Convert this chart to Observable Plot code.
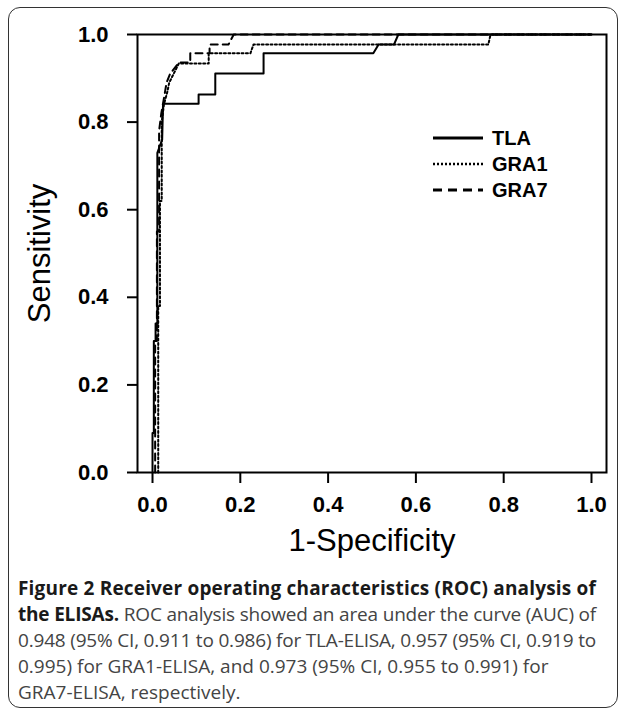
<!DOCTYPE html>
<html><head><meta charset="utf-8">
<script src="https://cdn.jsdelivr.net/npm/d3@7"></script>
<script src="https://cdn.jsdelivr.net/npm/@observablehq/plot@0.6"></script>
<style>
body{margin:0;background:#fff;font-family:"Liberation Sans",Arial,sans-serif;}
#fig{position:relative;width:625px;height:710px;overflow:hidden;background:#fff;}
#box{position:absolute;left:8px;top:7px;width:610px;height:701px;border:1.5px solid #333;border-radius:12px;box-sizing:border-box;}
#chart{position:absolute;left:0;top:0;}
#legend{position:absolute;left:433px;top:125px;}
.row{display:flex;align-items:center;height:26px;}
.row svg{width:50px;height:6px;margin-right:9px;}
.row span{font-weight:bold;font-size:20px;color:#000;font-family:"Liberation Sans",Arial,sans-serif;}
#caption{position:absolute;left:18px;top:575px;font-family:"Open Sans",sans-serif;font-size:19px;line-height:26px;color:#444;white-space:nowrap;}
#caption b{color:#1a1a1a;font-weight:700;}
#caption .ln{display:inline-block;}
</style></head>
<body>
<div id="fig">
  <div id="box"></div>
  <div id="chart"></div>
  <div id="legend"></div>
  <div id="caption"></div>
</div>
<script>
// ---- data ----
const xTicks = [0.0, 0.2, 0.4, 0.6, 0.8, 1.0];
const yTicks = [0.0, 0.2, 0.4, 0.6, 0.8, 1.0];
const seriesNames = ["TLA", "GRA1", "GRA7"];

const tlaX = [0, 0, 0.003, 0.003, 0.007, 0.007, 0.011, 0.011, 0.022, 0.024, 0.105, 0.105, 0.143, 0.143, 0.253, 0.253, 0.503, 0.515, 0.55, 0.56, 1.0];
const tlaY = [0, 0.09, 0.09, 0.30, 0.30, 0.34, 0.34, 0.73, 0.76, 0.842, 0.842, 0.863, 0.863, 0.911, 0.911, 0.957, 0.957, 0.977, 0.977, 1.0, 1.0];

const gra1X = [0.013, 0.013, 0.017, 0.017, 0.021, 0.021, 0.026, 0.034, 0.038, 0.06, 0.128, 0.128, 0.223, 0.23, 0.765, 0.77, 1.0];
const gra1Y = [0, 0.38, 0.38, 0.62, 0.62, 0.80, 0.84, 0.87, 0.89, 0.934, 0.934, 0.957, 0.957, 0.977, 0.977, 1.0, 1.0];

const gra7X = [0.006, 0.006, 0.01, 0.01, 0.015, 0.015, 0.02, 0.027, 0.032, 0.04, 0.06, 0.086, 0.086, 0.13, 0.13, 0.173, 0.185, 1.0];
const gra7Y = [0, 0.3, 0.3, 0.55, 0.55, 0.78, 0.82, 0.86, 0.89, 0.91, 0.936, 0.936, 0.957, 0.957, 0.977, 0.977, 1.0, 1.0];

const captionLines = [
  ["Figure 2 Receiver operating characteristics (ROC) analysis of", ""],
  ["the ELISAs.", " ROC analysis showed an area under the curve (AUC) of"],
  ["", "0.948 (95% CI, 0.911 to 0.986) for TLA-ELISA, 0.957 (95% CI, 0.919 to"],
  ["", "0.995) for GRA1-ELISA, and 0.973 (95% CI, 0.955 to 0.991) for"],
  ["", "GRA7-ELISA, respectively."]
];
// full-width caption lines are fitted to this width
const captionFit = [578, 578, 578, null, null];

// ---- build ----
const toRows = (xs, ys) => xs.map((x, i) => ({x, y: ys[i]}));
const tla = toRows(tlaX, tlaY), gra1 = toRows(gra1X, gra1Y), gra7 = toRows(gra7X, gra7Y);
const dashes = {TLA: null, GRA1: "2,2.4", GRA7: "7,5"};

const chart = Plot.plot({
  width: 625, height: 600,
  marginLeft: 137, marginRight: 19, marginTop: 34, marginBottom: 128,
  x: {domain: [-0.0342, 1.0342]},
  y: {domain: [0, 1]},
  style: {fontFamily: "'Liberation Sans', Arial, sans-serif", color: "#000", background: "transparent", overflow: "visible"},
  marks: [
    Plot.axisX(xTicks, {tickSize: 11, tickPadding: 13, tickFormat: d3.format(".1f"), fontSize: 22, fontWeight: "bold", strokeWidth: 2, label: null}),
    Plot.axisY(yTicks, {tickSize: 10, tickPadding: 19, tickFormat: d3.format(".1f"), fontSize: 22, fontWeight: "bold", strokeWidth: 2, label: null}),
    Plot.line(gra1, {x: "x", y: "y", stroke: "#000", strokeWidth: 2, strokeDasharray: dashes.GRA1}),
    Plot.line(gra7, {x: "x", y: "y", stroke: "#000", strokeWidth: 2, strokeDasharray: dashes.GRA7}),
    Plot.line(tla, {x: "x", y: "y", stroke: "#000", strokeWidth: 2}),
    Plot.frame({stroke: "#000", strokeWidth: 2}),
    Plot.text(["Sensitivity"], {text: d => d, frameAnchor: "left", textAnchor: "middle", dx: -97, rotate: -90, fontSize: 31}),
    Plot.text(["1-Specificity"], {text: d => d, frameAnchor: "bottom", dy: 78, fontSize: 31})
  ]
});
document.getElementById("chart").appendChild(chart);

// legend
const lg = document.getElementById("legend");
seriesNames.forEach(n => {
  const row = document.createElement("div");
  row.className = "row";
  const da = dashes[n];
  row.innerHTML = `<svg viewBox="0 0 50 6"><line x1="0" y1="3" x2="50" y2="3" stroke="#000" stroke-width="${n === "GRA1" ? 2.5 : 3}" ${da ? `stroke-dasharray="${n === "GRA1" ? "2,2" : "9,6"}"` : ""}/></svg><span>${n}</span>`;
  lg.appendChild(row);
});

// caption
const cap = document.getElementById("caption");
cap.innerHTML = captionLines.map(([b, r]) => `<span class="ln">${b ? `<b>${b}</b>` : ""}${r}</span>`).join("<br>");
cap.querySelectorAll(".ln").forEach((el, i) => {
  const target = captionFit[i];
  if (!target) return;
  const w = el.getBoundingClientRect().width;
  const n = el.textContent.length;
  el.style.letterSpacing = ((target - w) / n).toFixed(3) + "px";
});
</script>
</body></html>
